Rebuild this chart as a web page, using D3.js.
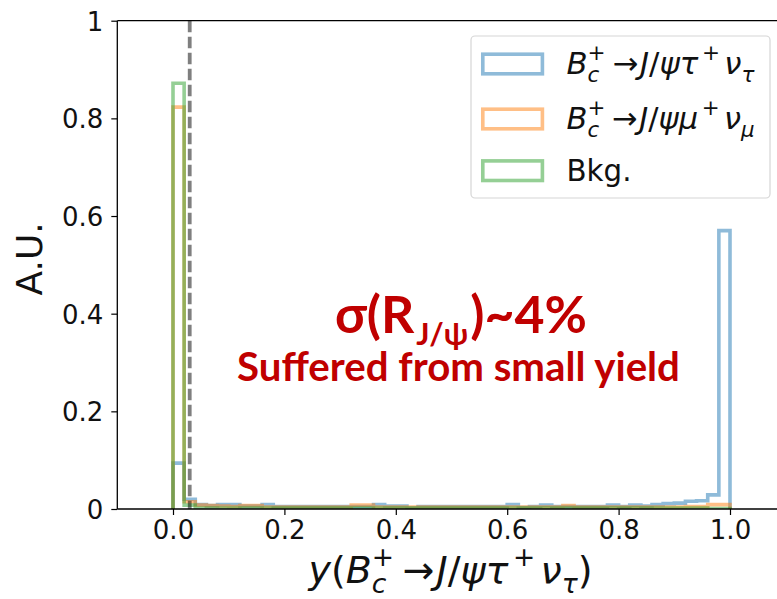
<!DOCTYPE html>
<html>
<head>
<meta charset="utf-8">
<script src="https://cdn.jsdelivr.net/npm/d3@7"></script>
<style>
  body { margin: 0; background: #fff; }
  svg { display: block; }
</style>
</head>
<body>
<svg id="chart" width="777" height="599"></svg>
<script>
// Histogram contents, 50 bins of width 0.02 on [0, 1]
const binWidth = 0.02;
const tauValues = [0.094, 0.020, 0.009, 0.007, 0.009, 0.009, 0.006, 0.006, 0.009, 0.005,
                   0.005, 0.005, 0.005, 0.005, 0.005, 0.005, 0.005, 0.005, 0.009, 0.006,
                   0.006, 0.002, 0.005, 0.005, 0.005, 0.005, 0.005, 0.005, 0.005, 0.005,
                   0.009, 0.003, 0.005, 0.008, 0.005, 0.005, 0.005, 0.005, 0.005, 0.008,
                   0.005, 0.008, 0.006, 0.009, 0.011, 0.012, 0.016, 0.017, 0.029, 0.570];
const muValues = [0.823, 0.015, 0.008, 0.007, 0.006, 0.005, 0.007, 0.007, 0.004, 0.004,
                  0.004, 0.004, 0.004, 0.004, 0.004, 0.004, 0.008, 0.008, 0.004, 0.004,
                  0.004, 0.004, 0.004, 0.004, 0.004, 0.004, 0.004, 0.004, 0.004, 0.004,
                  0.004, 0.004, 0.004, 0.004, 0.004, 0.007, 0.004, 0.004, 0.004, 0.004,
                  0.004, 0.004, 0.004, 0.004, 0.004, 0.004, 0.005, 0.005, 0.009, 0.009];
const bkgValues = [0.872, 0.008, 0.002, 0.002, 0.002, 0.002, 0.002, 0.002, 0.002, 0.002,
                   0.002, 0.002, 0.002, 0.002, 0.002, 0.002, 0.002, 0.002, 0.002, 0.002,
                   0.002, 0.002, 0.002, 0.002, 0.002, 0.002, 0.002, 0.002, 0.002, 0.002,
                   0.002, 0.002, 0.002, 0.002, 0.002, 0.002, 0.002, 0.002, 0.002, 0.002,
                   0.002, 0.002, 0.002, 0.002, 0.002, 0.002, 0.002, 0.002, 0.001, 0.001];
const cutValue = 0.03;

const xTicks = [0.0, 0.2, 0.4, 0.6, 0.8, 1.0];
const xTickLabels = ['0.0', '0.2', '0.4', '0.6', '0.8', '1.0'];
const yTicks = [0, 0.2, 0.4, 0.6, 0.8, 1];
const yTickLabels = ['0', '0.2', '0.4', '0.6', '0.8', '1'];

const colors = { tau: '#1f77b4', mu: '#ff7f0e', bkg: '#2ca02c' };

const svg = d3.select('#chart');
const plot = { left: 117.3, right: 785.7, top: 20.7, bottom: 509 };

// Scales
const x = d3.scaleLinear().domain([-0.1, 1.1]).range([plot.left, plot.right]);
const y = d3.scaleLinear().domain([0, 1]).range([plot.bottom, plot.top]);

svg.append('defs').append('clipPath').attr('id', 'clip')
    .append('rect')
    .attr('x', plot.left).attr('y', plot.top)
    .attr('width', plot.right - plot.left).attr('height', plot.bottom - plot.top);

// Step outline like histtype='step'
function stepPoints(values) {
    const pts = [[0, 0]];
    values.forEach((v, i) => {
        pts.push([i * binWidth, v]);
        pts.push([(i + 1) * binWidth, v]);
    });
    pts.push([values.length * binWidth, 0]);
    return pts;
}

const line = d3.line().x(d => x(d[0])).y(d => y(d[1]));

const hist = svg.append('g').attr('clip-path', 'url(#clip)');
[[tauValues, colors.tau], [muValues, colors.mu], [bkgValues, colors.bkg]].forEach(([vals, c]) => {
    hist.append('path')
        .attr('d', line(stepPoints(vals)))
        .attr('fill', 'none')
        .attr('stroke', c)
        .attr('stroke-opacity', 0.5)
        .attr('stroke-width', 3.6)
        .attr('stroke-linejoin', 'miter');
});

// Cut line
hist.append('line')
    .attr('x1', x(cutValue)).attr('x2', x(cutValue))
    .attr('y1', y(1)).attr('y2', y(0))
    .attr('stroke', '#000')
    .attr('stroke-opacity', 0.5)
    .attr('stroke-width', 3.8)
    .attr('stroke-dasharray', '11.5,4.5');

// Axes
const tickFont = '"DejaVu Sans", sans-serif';

const xAxis = svg.append('g')
    .attr('transform', `translate(0,${plot.bottom})`)
    .call(d3.axisBottom(x).tickValues(xTicks)
        .tickFormat((d, i) => xTickLabels[i])
        .tickSize(6).tickPadding(6));
xAxis.select('.domain').remove();

const yAxis = svg.append('g')
    .attr('transform', `translate(${plot.left},0)`)
    .call(d3.axisLeft(y).tickValues(yTicks)
        .tickFormat((d, i) => yTickLabels[i])
        .tickSize(6).tickPadding(8));
yAxis.select('.domain').remove();

[xAxis, yAxis].forEach(a => {
    a.selectAll('.tick line').attr('stroke', '#000').attr('stroke-width', 1.2);
    a.selectAll('.tick text')
        .attr('fill', '#111')
        .style('font-family', tickFont)
        .style('font-size', '26px');
});
yAxis.selectAll('.tick text').attr('dy', '0.36em');

// Spines
const spines = svg.append('g').attr('stroke', '#000').attr('stroke-width', 1.3);
spines.append('line').attr('x1', plot.left).attr('x2', plot.left).attr('y1', plot.top).attr('y2', plot.bottom);
spines.append('line').attr('x1', plot.left).attr('x2', plot.right).attr('y1', plot.bottom).attr('y2', plot.bottom);
spines.append('line').attr('x1', plot.left).attr('x2', plot.right).attr('y1', plot.top).attr('y2', plot.top);
spines.append('line').attr('x1', plot.right).attr('x2', plot.right).attr('y1', plot.top).attr('y2', plot.bottom);

// Math-like text layout: pieces with sub/superscripts; spacing given in em of the base size
function layoutMath(g, pieces, size) {
    let cx = 0, lastStart = 0;
    pieces.forEach(p => {
        const fs = p.pos ? size * (p.scale || 0.7) : size;
        const dy = p.pos === 'sub' ? size * (p.drop || 0.26) : p.pos === 'sup' ? -size * 0.45 : 0;
        const px = p.stack ? lastStart : cx;
        const pre = (p.pre || 0) * size, post = (p.post || 0) * size;
        const t = g.append('text')
            .attr('x', px + pre).attr('y', dy)
            .style('font-size', fs + 'px')
            .style('font-style', p.it ? 'italic' : 'normal')
            .text(p.t);
        const w = t.node().getComputedTextLength() + pre + post;
        if (p.stack) {
            cx = Math.max(cx, px + w);
        } else {
            lastStart = px;
            cx = px + w;
        }
    });
    return cx;
}

function mathText(parent, pieces, size, anchorX, baseY, align, family, fill, weight, targetWidth) {
    const g = parent.append('g')
        .style('font-family', family)
        .style('font-weight', weight || 'normal')
        .attr('fill', fill);
    let w = layoutMath(g, pieces, size);
    if (targetWidth) {
        g.selectAll('*').remove();
        w = layoutMath(g, pieces, size * targetWidth / w);
    }
    const off = align === 'middle' ? -w / 2 : 0;
    g.attr('transform', `translate(${anchorX + off},${baseY})`);
    return g;
}

function decayPieces(lepton, nuSub) {
    return [
        { t: 'B', it: true },
        { t: 'c', it: true, pos: 'sub' },
        { t: '+', pos: 'sup', stack: true, post: 0.22 },
        { t: '\u2192', post: 0.06 },
        { t: 'J', it: true },
        { t: '/' },
        { t: '\u03c8', it: true },
        { t: lepton, it: true },
        { t: '+', pos: 'sup', pre: 0.12, post: 0.14 },
        { t: '\u03bd', it: true },
        { t: nuSub, it: true, pos: 'sub' }
    ];
}

const mathFont = '"DejaVu Sans", sans-serif';

// X label
mathText(svg,
    [{ t: 'y', it: true }, { t: '(' }].concat(decayPieces('\u03c4', '\u03c4')).concat([{ t: ')' }]),
    34, (plot.left + plot.right) / 2 - 1, 583, 'middle', mathFont, '#111', 'normal', 284);

// Y label
svg.append('text')
    .attr('transform', `translate(42,${(plot.top + plot.bottom) / 2 - 6}) rotate(-90)`)
    .attr('text-anchor', 'middle')
    .attr('fill', '#111')
    .style('font-family', mathFont)
    .style('font-size', '36px')
    .text('A.U.');

// Legend
const legend = svg.append('g');
legend.append('rect')
    .attr('x', 471).attr('y', 36)
    .attr('width', 299).attr('height', 162)
    .attr('rx', 4)
    .attr('fill', '#fff').attr('fill-opacity', 0.8)
    .attr('stroke', '#d6d6d6').attr('stroke-width', 1.2);

const legendRows = [
    { color: colors.tau, cy: 64, pieces: decayPieces('\u03c4', '\u03c4'), width: 188 },
    { color: colors.mu, cy: 119, pieces: decayPieces('\u03bc', '\u03bc'), width: 188 },
    { color: colors.bkg, cy: 170.7, pieces: [{ t: 'Bkg.' }], width: 65 }
];
legendRows.forEach(r => {
    legend.append('rect')
        .attr('x', 482.8).attr('y', r.cy - 9.8)
        .attr('width', 59.6).attr('height', 19.6)
        .attr('fill', 'none')
        .attr('stroke', r.color).attr('stroke-opacity', 0.5)
        .attr('stroke-width', 3.6);
    mathText(legend, r.pieces, 29, 566.5, r.cy + 10, 'start', mathFont, '#111', 'normal', r.width);
});

// Annotation
const red = '#c00000';
const annFont = 'Lato, "Open Sans", sans-serif';
mathText(svg, [
    { t: '\u03c3(R' },
    { t: 'J/\u03c8', pos: 'sub', scale: 0.6, drop: 0.24, pre: 0.04, post: 0.04 },
    { t: ')~4%', pre: 0.0 }
], 46, 461, 333, 'middle', annFont, red, 'bold', 252);

const line2 = svg.append('text')
    .attr('x', 458.5).attr('y', 381)
    .attr('text-anchor', 'middle')
    .attr('fill', red)
    .style('font-family', annFont)
    .style('font-weight', 'bold')
    .style('font-size', '30px')
    .text('Suffered from small yield');
const w2 = line2.node().getComputedTextLength();
line2.style('font-size', (30 * 443 / w2) + 'px');
</script>
</body>
</html>
